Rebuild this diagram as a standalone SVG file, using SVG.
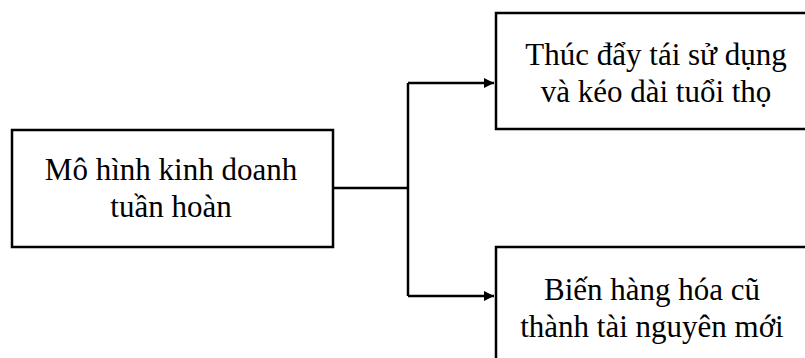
<svg xmlns="http://www.w3.org/2000/svg" width="805" height="358" viewBox="0 0 805 358">
  <defs>
    <marker id="arrow" viewBox="0 0 10 10" refX="10" refY="5" markerWidth="10" markerHeight="10" markerUnits="userSpaceOnUse" orient="auto">
      <path d="M0,0 L10,5 L0,10 Z" fill="#000"/>
    </marker>
    <style>
      .box { fill: #fff; stroke: #000; stroke-width: 2.5; }
      .label { font-family: "Liberation Serif", "Times New Roman", serif; font-size: 31px; fill: #000; text-anchor: middle; }
      .link { fill: none; stroke: #000; stroke-width: 2.5; }
    </style>
  </defs>
  <rect width="805" height="358" fill="#fff"/>

  <g id="circular-model">
    <rect class="box" x="12" y="130" width="321" height="117"/>
    <text class="label" x="171" y="180">Mô hình kinh doanh</text>
    <text class="label" x="171" y="217">tuần hoàn</text>
  </g>

  <g id="reuse">
    <rect class="box" x="496" y="13" width="330" height="116"/>
    <text class="label" x="656" y="65">Thúc đẩy tái sử dụng</text>
    <text class="label" x="656" y="102">và kéo dài tuổi thọ</text>
  </g>

  <g id="new-resources">
    <rect class="box" x="496" y="247" width="330" height="130"/>
    <text class="label" x="652" y="300">Biến hàng hóa cũ</text>
    <text class="label" x="652" y="337">thành tài nguyên mới</text>
  </g>

  <g id="connectors">
    <path class="link" d="M333,188 H408"/>
    <path class="link" d="M408,83 V296"/>
    <path class="link" d="M408,83 H494" marker-end="url(#arrow)"/>
    <path class="link" d="M408,296 H494" marker-end="url(#arrow)"/>
  </g>
</svg>
